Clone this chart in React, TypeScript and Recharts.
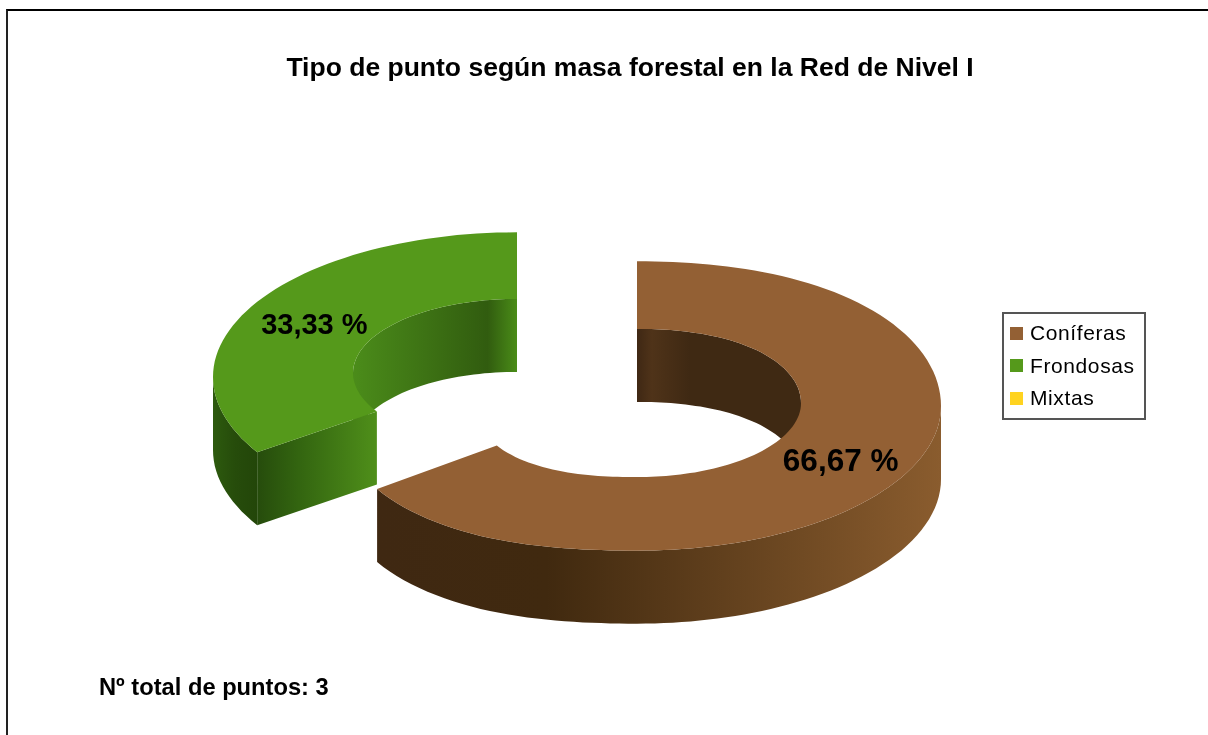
import { Legend, Pie, PieChart } from 'recharts';

const categories = ['Coníferas', 'Frondosas', 'Mixtas'];
const values = [2, 1, 0];
const colors = ['#936034', '#55991b', '#ffd320'];

const TITLE = 'Tipo de punto según masa forestal en la Red de Nivel I';
const FOOTER = 'Nº total de puntos: ';
const TOTAL_POINTS = 3;

const data = categories.map((name, i) => ({ name, value: values[i], fill: colors[i] }));

// fake 3D: the pie is flattened to an ellipse and extruded downwards
const TILT = 0.476;
const DEPTH = 73;
const HOLE_TILT = 0.452;
const sliceOffset = [
  { dx: 0, dy: 0, holeLift: 3, warp: 4.5, bulge: 0.04, labelSize: 31.5, labelDx: 1, labelDy: 9 },
  { dx: -120, dy: -29, holeLift: 4, warp: 1.5, bulge: 0, labelSize: 29, labelDx: 0, labelDy: 13 },
  { dx: 0, dy: 0, holeLift: 0, warp: 0, bulge: 0, labelSize: 0, labelDx: 0, labelDy: 0 },
];
const wallStops = [
  {
    outer: [[0, '#3f2812'], [0.3, '#40290f'], [1, '#8a5c2e']],
    inner: [[0, '#3f2814'], [0.09, '#4f3319'], [0.32, '#3f2913'], [1, '#3f2913']],
    cut: [[0, '#3f2812'], [1, '#3f2812']],
  },
  {
    outer: [[0, '#2d5a0e'], [0.5, '#264c0b'], [1, '#234609']],
    inner: [[0, '#4b8c1a'], [0.82, '#315c0f'], [1, '#4a8c18']],
    cut: [[0, '#264c0c'], [0.35, '#336510'], [1, '#4f8f1a']],
  },
  { outer: [], inner: [], cut: [] },
];

const rad = (deg: number) => (deg * Math.PI) / 180;

type Look = { warp: number; bulge: number };

// the original is not a clean ellipse: front-left sits lower, back-right a bit higher
const arcPoints = (cx: number, cy: number, rx: number, ry: number, from: number, to: number, look: Look) => {
  const steps = Math.max(2, Math.ceil(Math.abs(to - from) / 2));
  const pts: [number, number][] = [];
  for (let i = 0; i <= steps; i++) {
    const deg = from + ((to - from) * i) / steps;
    const s = Math.sin(rad(2 * deg));
    const a = rad(deg + look.warp * s);
    const amount = s <= 0 ? 0 : Math.cos(rad(deg)) > 0 ? look.bulge / 2 : look.bulge;
    const k = 1 + amount * s * s;
    pts.push([cx + k * rx * Math.cos(a), cy - k * ry * Math.sin(a)]);
  }
  return pts;
};

const toPath = (pts: [number, number][]) =>
  pts.map((p, i) => `${i ? 'L' : 'M'}${p[0].toFixed(1)} ${p[1].toFixed(1)}`).join(' ') + ' Z';

const shifted = (pts: [number, number][]) => pts.map(p => [p[0], p[1] + DEPTH] as [number, number]);

const Gradient = ({ id, stops }: { id: string; stops: (string | number)[][] }) => (
  <linearGradient id={id} x1="0" y1="0" x2="1" y2="0">
    {stops.map((s, i) => (
      <stop key={i} offset={s[0]} stopColor={s[1] as string} />
    ))}
  </linearGradient>
);

const DonutSlice = (props: any) => {
  const { cx, cy, innerRadius, outerRadius, startAngle, endAngle, fill, index } = props;
  if (startAngle === endAngle) return null;
  const off = sliceOffset[index];
  const x = cx + off.dx;
  const y = cy + off.dy;
  const hy = y - off.holeLift;
  // keep the top of the ring (90deg) inside the range
  const wrap = Math.min(startAngle, endAngle) < -180 ? 360 : 0;
  const hi = Math.max(startAngle, endAngle) + wrap;
  const lo = Math.min(startAngle, endAngle) + wrap;
  const outerRy = outerRadius * TILT;
  const innerRy = innerRadius * HOLE_TILT;

  const outerArc = arcPoints(x, y, outerRadius, outerRy, hi, lo, off);
  const innerArc = arcPoints(x, hy, innerRadius, innerRy, lo, hi, off);

  // back half of the hole wall (0..180) is the part facing the viewer
  const back = arcPoints(x, hy, innerRadius, innerRy, Math.min(hi, 180), Math.max(lo, 0), off);

  // front half of the outer wall (180..360, or -180..0)
  const frontFrom = hi > 180 ? hi : Math.min(hi, 0);
  const frontTo = hi > 180 ? 180 : Math.max(lo, -180);
  const front = arcPoints(x, y, outerRadius, outerRy, frontFrom, frontTo, off);

  // only the green slice has its cut turned to the viewer
  const showCut = index === 1;
  const cutOuter = arcPoints(x, y, outerRadius, outerRy, hi, hi, off)[0];
  const cutInner = arcPoints(x, hy, innerRadius, innerRy, hi, hi, off)[0];

  return (
    <g>
      <defs>
        <Gradient id={`outer-${index}`} stops={wallStops[index].outer} />
        <Gradient id={`inner-${index}`} stops={wallStops[index].inner} />
        <Gradient id={`cut-${index}`} stops={wallStops[index].cut} />
      </defs>
      <path d={toPath([...back, ...shifted(back).reverse()])} fill={`url(#inner-${index})`} />
      {showCut && (
        <path
          d={toPath([cutOuter, cutInner, [cutInner[0], cutInner[1] + DEPTH], [cutOuter[0], cutOuter[1] + DEPTH]])}
          fill={`url(#cut-${index})`}
        />
      )}
      <path d={toPath([...front, ...shifted(front).reverse()])} fill={`url(#outer-${index})`} />
      <path d={toPath([...outerArc, ...innerArc])} fill={fill} />
    </g>
  );
};

const renderLabel = (props: any) => {
  const { cx, cy, innerRadius, outerRadius, midAngle, percent, index } = props;
  if (!percent) return null;
  const off = sliceOffset[index];
  const r = (innerRadius + outerRadius) / 2;
  const a = rad(midAngle);
  return (
    <text
      x={cx + off.dx + r * Math.cos(a) + off.labelDx}
      y={cy + off.dy - r * TILT * Math.sin(a) + off.labelDy}
      textAnchor="middle"
      fontFamily="Liberation Sans"
      fontWeight="bold"
      fontSize={off.labelSize}
      fill="#000"
    >
      {(percent * 100).toFixed(2).replace('.', ',') + ' %'}
    </text>
  );
};

const LegendBox = ({ payload }: any) => (
  <div
    style={{
      width: 144,
      height: 108,
      boxSizing: 'border-box',
      border: '2px solid #555',
      background: '#fff',
      paddingTop: 3,
    }}
  >
    {(payload || []).map((p: any) => (
      <div
        key={p.value}
        style={{
          display: 'flex',
          alignItems: 'center',
          height: 32.5,
          fontFamily: 'Liberation Sans',
          fontSize: 21,
          letterSpacing: 0.6,
          color: '#000',
        }}
      >
        <span style={{ width: 13, height: 13, marginLeft: 6, marginRight: 7, background: p.color, display: 'block' }} />
        {p.value}
      </div>
    ))}
  </div>
);

export default function App() {
  return (
    <div style={{ position: 'absolute', left: 0, top: 0, width: 1208, height: 735, overflow: 'hidden', background: '#fff', filter: 'blur(0.4px)' }}>
      <div style={{ position: 'absolute', left: 6, top: 9, width: 1202, height: 726, borderLeft: '2.5px solid #222', borderTop: '2.5px solid #000', boxSizing: 'border-box' }} />
      <PieChart width={1208} height={735} margin={{ top: 0, right: 0, bottom: 0, left: 0 }}>
        <text x={630} y={76} textAnchor="middle" fontFamily="Liberation Sans" fontWeight="bold" fontSize={26.5} fill="#000">
          {TITLE}
        </text>
        <text x={99} y={695} fontFamily="Liberation Sans" fontWeight="bold" fontSize={23.7} fill="#000">
          {FOOTER + TOTAL_POINTS}
        </text>
        <Pie
          data={data}
          dataKey="value"
          nameKey="name"
          cx={637}
          cy={406}
          innerRadius={164}
          outerRadius={304}
          startAngle={90}
          endAngle={-270}
          stroke="none"
          label={renderLabel}
          labelLine={false}
          shape={DonutSlice}
          isAnimationActive={false}
        />
        <Legend
          layout="vertical"
          content={LegendBox}
          wrapperStyle={{ position: 'absolute', left: 1002, top: 312, width: 144, height: 108, bottom: 'auto', right: 'auto' }}
        />
      </PieChart>
    </div>
  );
}
